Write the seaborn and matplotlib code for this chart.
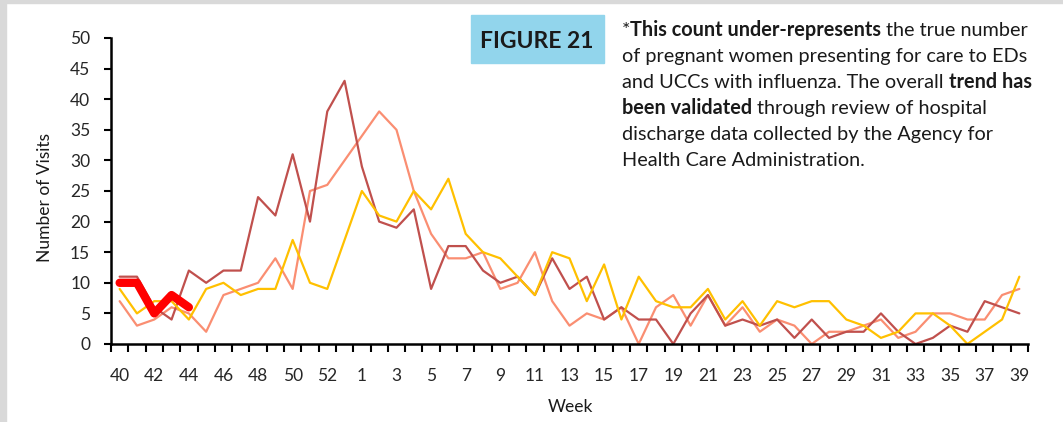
import numpy as np
import pandas as pd
import seaborn as sns
import matplotlib.pyplot as plt
from matplotlib.patches import Rectangle

# week of the flu season, week 40 through week 39 of the next year
weeks = list(range(40, 54)) + list(range(1, 40))

# earlier seasons (no legend in the original)
season_dark = [11, 11, 6, 4, 12, 10, 12, 12, 24, 21, 31, 20, 38, 43,
               29, 20, 19, 22, 9, 16, 16, 12, 10, 11, 8, 14, 9, 11, 4, 6,
               4, 4, 0, 5, 8, 3, 4, 3, 4, 1, 4, 1, 2, 2, 5, 2, 0, 1, 3, 2, 7, 6, 5]
season_salmon = [7, 3, 4, 6, 5, 2, 8, 9, 10, 14, 9, 25, 26, 30,
                 34, 38, 35, 25, 18, 14, 14, 15, 9, 10, 15, 7, 3, 5, 4, 6,
                 0, 6, 8, 3, 8, 3, 6, 2, 4, 3, 0, 2, 2, 3, 4, 1, 2, 5, 5, 4, 4, 8, 9]
season_yellow = [9, 5, 7, 7, 4, 9, 10, 8, 9, 9, 17, 10, 9, 17,
                 25, 21, 20, 25, 22, 27, 18, 15, 14, 11, 8, 15, 14, 7, 13, 4,
                 11, 7, 6, 6, 9, 4, 7, 3, 7, 6, 7, 7, 4, 3, 1, 2, 5, 5, 3, 0, 2, 4, 11]
# current season so far
season_now = [10, 10, 5, 8, 6]

sns.set_style("white")
plt.rcParams['font.family'] = ['Lato', 'DejaVu Sans']

W, H = 1063, 422
fig = plt.figure(figsize=(W / 100, H / 100), dpi=100)
fig.patch.set_facecolor('white')

# grey frame bits at top and left
fig.patches.append(Rectangle((0, 1 - 3 / H), 1, 3 / H, transform=fig.transFigure,
                             color='#D9D9D9', zorder=0))
fig.patches.append(Rectangle((0, 0), 6 / W, 1, transform=fig.transFigure,
                             color='#D9D9D9', zorder=0))

ax = fig.add_axes([111 / W, 78 / H, 917 / W, 306 / H])
pos = np.arange(len(weeks))

df = pd.DataFrame({'pos': pos, 'dark': season_dark, 'salmon': season_salmon,
                   'yellow': season_yellow})
df_now = pd.DataFrame({'pos': pos[:len(season_now)], 'visits': season_now})

sns.lineplot(data=df, x='pos', y='salmon', color='#FA8E72', linewidth=1.6, ax=ax)
sns.lineplot(data=df, x='pos', y='dark', color='#C0504D', linewidth=1.6, ax=ax)
sns.lineplot(data=df, x='pos', y='yellow', color='#FFC000', linewidth=1.6, ax=ax)
sns.lineplot(data=df_now, x='pos', y='visits', color='#FF0000', linewidth=6,
             solid_capstyle='round', solid_joinstyle='round', ax=ax)

ax.set_xlim(-0.5, len(weeks) - 0.5)
ax.set_ylim(0, 50)
ax.set_xlabel('')
ax.set_ylabel('')

ax.set_xticks(pos[::2])
ax.set_xticklabels([str(w) for w in weeks[::2]])
ax.set_xticks(np.arange(-0.5, len(weeks), 1), minor=True)
ax.tick_params(axis='x', which='major', length=0, pad=17, labelsize=12.5)
ax.tick_params(axis='x', which='minor', length=6, width=1.5, color='black',
               direction='out', bottom=True)
ax.set_yticks(range(0, 51, 5))
ax.tick_params(axis='y', length=5, width=1.5, color='black', direction='out',
               left=True, pad=10, labelsize=12.5)

for side in ['top', 'right']:
    ax.spines[side].set_visible(False)
for side in ['left', 'bottom']:
    ax.spines[side].set_color('black')
    ax.spines[side].set_linewidth(1.8)

fig.text(45 / W, 1 - 198 / H, 'Number of Visits', rotation=90, ha='center',
         va='center', fontsize=12.5, color='#1a1a1a')
fig.text(570 / W, 1 - 407 / H, 'Week', ha='center', va='center', fontsize=12.5,
         color='#1a1a1a')

# figure tag
fig.patches.append(Rectangle((471 / W, 1 - 63 / H), 133 / W, 48 / H,
                             transform=fig.transFigure, color='#92D5EC', zorder=1))
fig.text(537 / W, 1 - 41 / H, 'FIGURE 21', ha='center', va='center',
         fontsize=16.5, fontweight='bold', color='#1a1a1a', zorder=2)

# note with bold parts
note = [
    [('*', False), ('This count under-represents', True), ('the true number', False)],
    [('of pregnant women presenting for care to EDs', False)],
    [('and UCCs with influenza. The overall', False), ('trend has', True)],
    [('been validated', True), ('through review of hospital', False)],
    [('discharge data collected by the Agency for', False)],
    [('Health Care Administration.', False)],
]
r = fig.canvas.get_renderer()
fs = 14.3
t1 = fig.text(0, 0, 'x x', fontsize=fs)
t2 = fig.text(0, 0, 'xx', fontsize=fs)
space = (t1.get_window_extent(r).width - t2.get_window_extent(r).width) / fig.bbox.width
t1.remove()
t2.remove()

y0 = 36
for i, parts in enumerate(note):
    x = 622 / W
    y = 1 - (y0 + i * 26) / H
    for j, (s, bold) in enumerate(parts):
        t = fig.text(x, y, s, fontsize=fs, va='baseline', ha='left', color='#1a1a1a',
                     fontweight='bold' if bold else 'normal')
        w = t.get_window_extent(r).width / fig.bbox.width
        x += w
        if s != '*':
            x += space

fig.savefig('out.png', dpi=100)
